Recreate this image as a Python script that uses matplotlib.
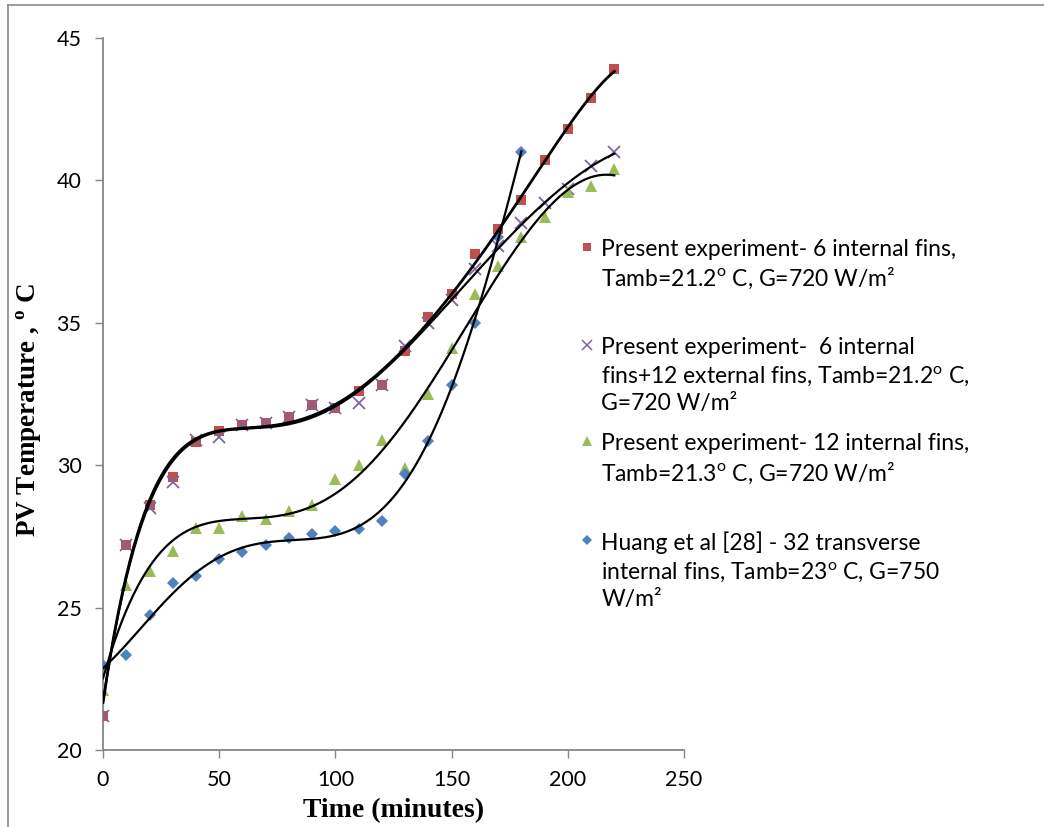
import numpy as np
import matplotlib
matplotlib.use("Agg")
import matplotlib.pyplot as plt
from matplotlib.lines import Line2D

# ---- data -----------------------------------------------------------------
time_min = [0, 10, 20, 30, 40, 50, 60, 70, 80, 90, 100, 110, 120, 130, 140,
            150, 160, 170, 180, 190, 200, 210, 220]
fins6_int = [21.2, 27.2, 28.6, 29.6, 30.8, 31.2, 31.4, 31.5, 31.7, 32.1, 32.0,
             32.6, 32.8, 34.0, 35.2, 36.0, 37.4, 38.3, 39.3, 40.7, 41.8, 42.9, 43.9]
fins6_int_12_ext = [21.2, 27.2, 28.5, 29.4, 30.9, 31.0, 31.4, 31.5, 31.7, 32.1,
                    32.0, 32.2, 32.8, 34.2, 35.0, 35.8, 36.9, 37.7, 38.5, 39.2,
                    39.7, 40.5, 41.0]
fins12_int = [22.1, 25.8, 26.3, 27.0, 27.8, 27.8, 28.2, 28.1, 28.4, 28.6, 29.5,
              30.0, 30.9, 29.9, 32.5, 34.1, 36.0, 37.0, 38.0, 38.7, 39.6, 39.8, 40.4]
time_huang = [0, 10, 20, 30, 40, 50, 60, 70, 80, 90, 100, 110, 120, 130, 140,
              150, 160, 170, 180]
huang = [23.0, 23.35, 24.75, 25.85, 26.1, 26.7, 26.95, 27.2, 27.45, 27.6, 27.7,
         27.75, 28.05, 29.7, 30.85, 32.8, 35.0, 38.0, 41.0]

labels = [
    "Present experiment- 6 internal fins,\nTamb=21.2$^{\\mathrm{o}}$ C, G=720 W/m²\n",
    "Present experiment-  6 internal\nfins+12 external fins, Tamb=21.2$^{\\mathrm{o}}$ C,\nG=720 W/m²",
    "Present experiment- 12 internal fins,\nTamb=21.3$^{\\mathrm{o}}$ C, G=720 W/m²\n",
    "Huang et al [28] - 32 transverse\ninternal fins, Tamb=23$^{\\mathrm{o}}$ C, G=750\nW/m²",
]
x_ticks = [0, 50, 100, 150, 200, 250]
y_ticks = [20, 25, 30, 35, 40, 45]

# ---- style ----------------------------------------------------------------
plt.rcParams["font.family"] = ["Lato", "DejaVu Sans"]
plt.rcParams["mathtext.fontset"] = "custom"
plt.rcParams["mathtext.rm"] = "Lato"
plt.rcParams["mathtext.bf"] = "Liberation Serif:bold"

axis_grey = "#868686"

fig = plt.figure(figsize=(10.44, 8.27), dpi=100)
ax = fig.add_axes([0.0987, 0.0931, 0.5565, 0.8609])

series = [
    (time_min, fins6_int, dict(marker="s", color="#C0504D", ms=6.5, mew=0, ls="none")),
    (time_min, fins6_int_12_ext, dict(marker="x", color="#8064A2", ms=8, mew=1.3, ls="none")),
    (time_min, fins12_int, dict(marker="^", color="#9BBB59", ms=9, mew=0, ls="none")),
    (time_huang, huang, dict(marker="D", color="#4F81BD", ms=6.5, mew=0, ls="none")),
]

for x, y, kw in series:
    ax.plot(x, y, zorder=3, **kw)

# polynomial trend lines (6th order)
for (x, y, _), lw in zip(series, [2.0, 1.6, 1.6, 1.6]):
    xa = np.asarray(x, float)
    coef = np.polyfit(xa, np.asarray(y, float), 6)
    xs = np.linspace(xa.min(), xa.max(), 400)
    ax.plot(xs, np.polyval(coef, xs), color="black", lw=lw, zorder=4)

ax.set_xlim(0, 250)
ax.set_ylim(20, 45)
ax.set_xticks(x_ticks)
ax.set_yticks(y_ticks)
ax.tick_params(axis="both", direction="out", length=5.5, width=1.0,
               color=axis_grey, labelsize=15.5, labelcolor="black")
ax.tick_params(axis="y", pad=10)
ax.tick_params(axis="x", pad=9)
for side in ("top", "right"):
    ax.spines[side].set_visible(False)
for side in ("left", "bottom"):
    ax.spines[side].set_color(axis_grey)
    ax.spines[side].set_linewidth(1.3)

ax.set_xlabel("Time (minutes)", family="Liberation Serif", weight="bold",
              fontsize=20, labelpad=6)
ax.set_ylabel("PV Temperature , $^{\\mathbf{o}}$ C", family="Liberation Serif",
              weight="bold", fontsize=19.5)
ax.yaxis.set_label_coords(-0.101, 0.478)

# legend: markers aligned with the first line of each entry
leg_handles = [
    Line2D([], [], marker="s", color="#C0504D", ms=5.5, mew=0, ls="none"),
    Line2D([], [], marker="x", color="#8064A2", ms=6.5, mew=1.1, ls="none"),
    Line2D([], [], marker="^", color="#9BBB59", ms=7.5, mew=0, ls="none"),
    Line2D([], [], marker="D", color="#4F81BD", ms=5.5, mew=0, ls="none"),
]
leg = ax.legend(leg_handles, labels, loc="upper left",
                bbox_to_anchor=(0.822, 0.718), frameon=False, fontsize=16.5,
                handlelength=0.6, handletextpad=0.3, labelspacing=0.85,
                borderaxespad=0, borderpad=0)
for t in leg.get_texts():
    t.set_linespacing(1.31)
for col in leg._legend_handle_box.get_children():
    for row in col.get_children():
        row.align = "top"
leg.set_clip_on(False)

# page frame
fig.add_artist(Line2D([8 / 1044, 1.0], [1 - 5 / 827] * 2,
                      transform=fig.transFigure, color="#8a8a8a", lw=1.2))
fig.add_artist(Line2D([8 / 1044] * 2, [0.0, 1 - 5 / 827],
                      transform=fig.transFigure, color="#8a8a8a", lw=1.2))

fig.savefig("out.png", dpi=100)
